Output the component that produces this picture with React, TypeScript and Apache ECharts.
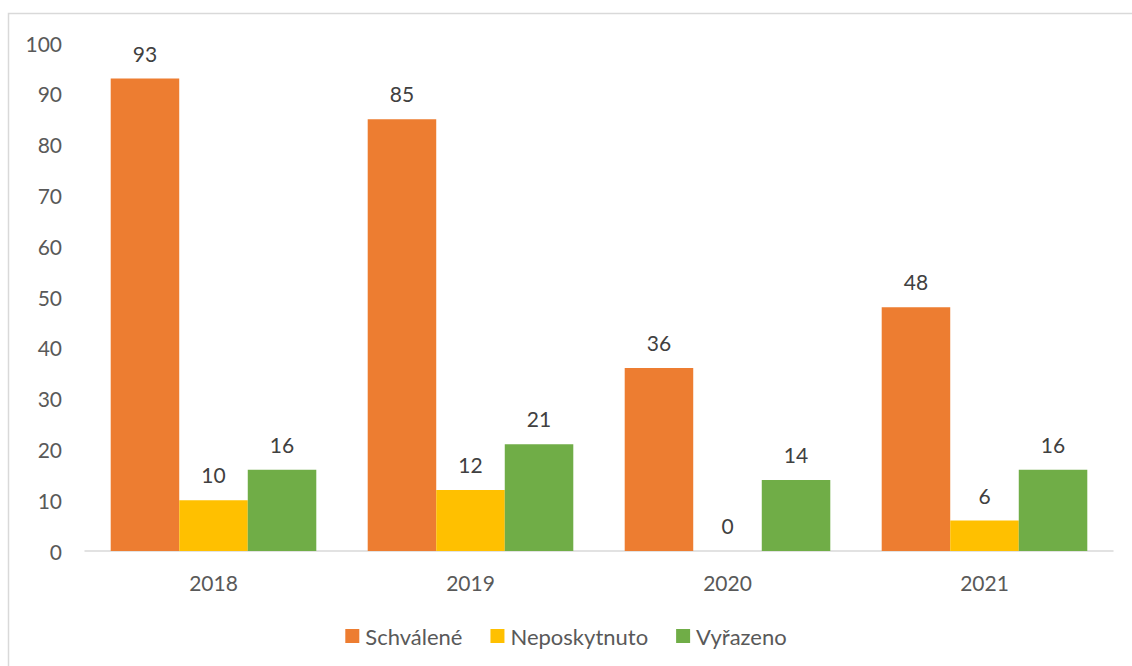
import React, { useEffect, useRef } from "react";
import * as echarts from "echarts";

const categories = ["2018", "2019", "2020", "2021"];
const schvalene = [93, 85, 36, 48];
const neposkytnuto = [10, 12, 0, 6];
const vyrazeno = [16, 21, 14, 16];
const seriesNames = ["Schválené", "Neposkytnuto", "Vyřazeno"];
const colors = ["#ED7D31", "#FFC000", "#70AD47"];

const FONT = "Lato, 'Noto Sans', sans-serif";
const FS = 21;

export default function App() {
  const ref = useRef<HTMLDivElement>(null);
  useEffect(() => {
    document.body.style.margin = "0";
    if (!ref.current) return;
    const chart = echarts.init(ref.current, null, { renderer: "svg" });
    const label = {
      show: true,
      position: "top",
      distance: 15,
      color: "#404040",
      fontSize: FS,
      fontFamily: FONT,
    };
    const data = [schvalene, neposkytnuto, vyrazeno];
    chart.setOption({
      animation: false,
      backgroundColor: "#ffffff",
      textStyle: { fontFamily: FONT },
      graphic: [
        {
          type: "rect",
          shape: { x: 8.5, y: 13.5, width: 2000, height: 2000 },
          style: { fill: "none", stroke: "#d9d9d9", lineWidth: 1.5 },
          silent: true,
        },
      ],
      grid: { left: 85, right: 19, top: 43, bottom: 115 },
      legend: {
        top: 620,
        left: "center",
        itemWidth: 14,
        itemHeight: 14,
        itemGap: 28,
        icon: "rect",
        textStyle: { color: "#595959", fontSize: 22, fontFamily: FONT, padding: [0, 0, 0, 1] },
        data: seriesNames,
      },
      xAxis: {
        type: "category",
        data: categories,
        axisLine: { lineStyle: { color: "#d9d9d9", width: 1.5 } },
        axisTick: { show: false },
        axisLabel: { color: "#595959", fontSize: FS, margin: 21, fontFamily: FONT },
      },
      yAxis: {
        type: "value",
        min: 0,
        max: 100,
        interval: 10,
        axisLine: { show: false },
        axisTick: { show: false },
        splitLine: { show: false },
        axisLabel: { color: "#595959", fontSize: FS, margin: 23, fontFamily: FONT },
      },
      series: seriesNames.map((name, i) => ({
        name,
        type: "bar",
        data: data[i],
        barGap: "0%",
        barCategoryGap: "20%",
        itemStyle: { color: colors[i] },
        label,
      })),
    });
    return () => chart.dispose();
  }, []);
  return <div ref={ref} style={{ width: 1132, height: 666 }} />;
}
